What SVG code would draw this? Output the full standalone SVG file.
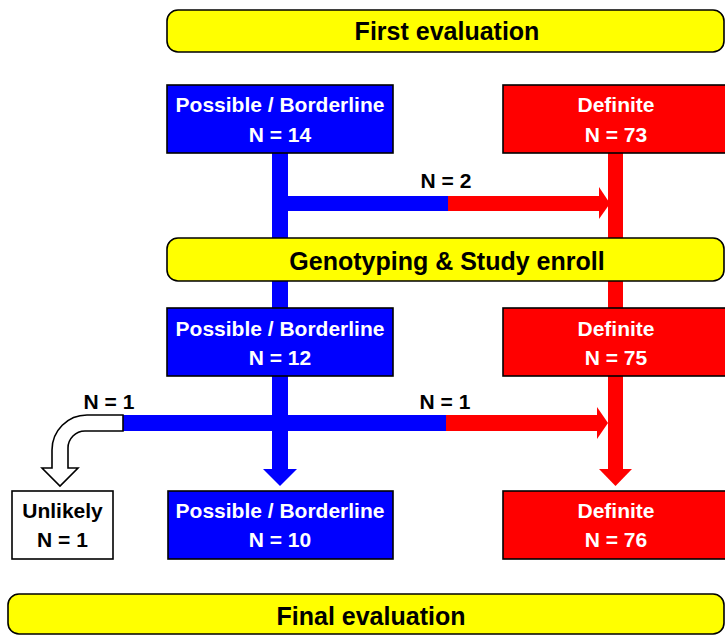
<svg xmlns="http://www.w3.org/2000/svg" width="725" height="636" viewBox="0 0 725 636">
<style>
text{font-family:"Liberation Sans",Arial,sans-serif;font-weight:bold;font-size:21px;text-anchor:middle}
.title{font-size:25px}
.bar{fill:#ffff00;stroke:#000;stroke-width:1.6}
.blue{fill:#0000ff;stroke:#000;stroke-width:1.6}
.red{fill:#ff0000;stroke:#000;stroke-width:1.6}
.white{fill:#fff;stroke:#000;stroke-width:1.6}
.wt{fill:#fff}
.bt{fill:#000}
</style>
<rect width="725" height="636" fill="#fff"/>
<g id="connectors">
  <rect x="272" y="153" width="16" height="316" fill="#0000ff"/>
  <polygon points="263,469 297,469 280,486" fill="#0000ff"/>
  <rect x="608" y="153" width="15" height="316" fill="#ff0000"/>
  <polygon points="599,469 632,469 615.5,486" fill="#ff0000"/>
  <rect x="288" y="196" width="160" height="15" fill="#0000ff"/>
  <rect x="448" y="196" width="151" height="15" fill="#ff0000"/>
  <polygon points="599,187 610,203.5 599,219" fill="#ff0000"/>
  <rect x="123" y="415" width="323" height="16" fill="#0000ff"/>
  <rect x="446" y="415" width="151" height="16" fill="#ff0000"/>
  <polygon points="597,407 608,423 597,439" fill="#ff0000"/>
  <path d="M123,415 L87,415 A35,35 0 0 0 52,450 L52,468 L42,468 L60,486 L78,468 L68,468 L68,448 A17,17 0 0 1 85,431 L123,431 Z" class="white"/>
  <text x="446" y="188" class="bt">N = 2</text>
  <text x="109" y="409" class="bt">N = 1</text>
  <text x="445" y="409" class="bt">N = 1</text>
</g>
<g id="first-evaluation">
  <rect x="167" y="10" width="557" height="42" rx="11" class="bar"/>
  <text x="447" y="40" class="bt title">First evaluation</text>
</g>
<g id="possible-1">
  <rect x="167" y="85" width="226" height="68" class="blue"/>
  <text x="280" y="112" class="wt">Possible / Borderline</text>
  <text x="280" y="142" class="wt">N = 14</text>
</g>
<g id="definite-1">
  <rect x="503" y="85" width="225" height="68" class="red"/>
  <text x="616" y="112" class="wt">Definite</text>
  <text x="616" y="142" class="wt">N = 73</text>
</g>
<g id="genotyping">
  <rect x="167" y="238" width="557" height="43" rx="11" class="bar"/>
  <text x="447" y="270" class="bt title">Genotyping &amp; Study enroll</text>
</g>
<g id="possible-2">
  <rect x="167" y="308" width="226" height="68" class="blue"/>
  <text x="280" y="336" class="wt">Possible / Borderline</text>
  <text x="280" y="365" class="wt">N = 12</text>
</g>
<g id="definite-2">
  <rect x="503" y="308" width="225" height="68" class="red"/>
  <text x="616" y="336" class="wt">Definite</text>
  <text x="616" y="365" class="wt">N = 75</text>
</g>
<g id="unlikely">
  <rect x="12" y="491" width="101" height="68" class="white"/>
  <text x="62.5" y="518" class="bt">Unlikely</text>
  <text x="62.5" y="547" class="bt">N = 1</text>
</g>
<g id="possible-3">
  <rect x="168" y="491" width="225" height="68" class="blue"/>
  <text x="280" y="518" class="wt">Possible / Borderline</text>
  <text x="280" y="547" class="wt">N = 10</text>
</g>
<g id="definite-3">
  <rect x="503" y="491" width="225" height="68" class="red"/>
  <text x="616" y="518" class="wt">Definite</text>
  <text x="616" y="547" class="wt">N = 76</text>
</g>
<g id="final-evaluation">
  <rect x="8" y="594" width="716" height="40" rx="11" class="bar"/>
  <text x="371" y="625" class="bt title">Final evaluation</text>
</g>
</svg>
